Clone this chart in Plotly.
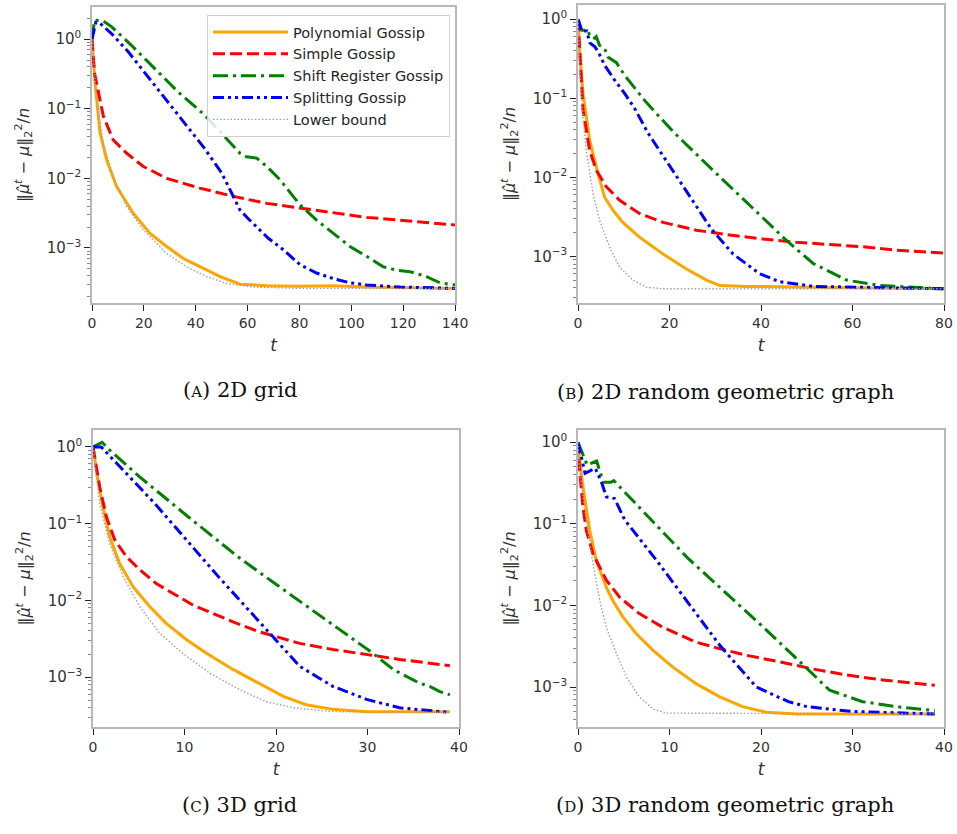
import plotly.graph_objects as go

# ---------------- data ----------------
# (A) 2D grid
a_poly_t = [0, 1.2, 3.1, 5.7, 9.5, 15.9, 22.4, 28.8, 35.2, 41.6, 49.4, 57.1, 67.4, 80.2, 93.1, 105.9, 140]
a_poly_v = [1.0, 0.229, 0.0447, 0.0182, 0.00759, 0.00316, 0.00162, 0.00105, 7.08e-4, 5.37e-4, 3.89e-4, 3.02e-4, 2.88e-4, 2.82e-4, 2.88e-4, 2.75e-4, 2.63e-4]
a_simple_t = [0, 1, 2, 4.4, 8.2, 13.4, 19.8, 28.8, 41.6, 54.5, 67.4, 80.2, 93.1, 105.9, 118.8, 140]
a_simple_v = [1.0, 0.32, 0.21, 0.0776, 0.0355, 0.0229, 0.0148, 0.0100, 0.00724, 0.00550, 0.00437, 0.00372, 0.00316, 0.00275, 0.00251, 0.00214]
a_shift_t = [0, 1, 4.3, 7.5, 15.2, 24.2, 33.2, 43.4, 52.4, 57.1, 59.6, 63.5, 67.4, 72.5, 77.6, 80.2, 86.6, 93.1, 99.5, 105.9, 112.3, 117.5, 122.6, 129, 134.2, 140]
a_shift_v = [1.0, 1.86, 1.82, 1.51, 0.813, 0.380, 0.174, 0.0813, 0.0355, 0.0229, 0.0204, 0.0195, 0.0148, 0.00955, 0.00550, 0.00417, 0.00251, 0.00162, 0.00105, 7.59e-4, 5.37e-4, 4.79e-4, 4.57e-4, 3.89e-4, 3.16e-4, 2.95e-4]
a_split_t = [0, 1.5, 3.0, 7.5, 13.9, 24.2, 34.4, 43.4, 50, 54, 57, 60, 64, 68, 74, 80.2, 86.6, 93.1, 99.5, 105.9, 118.8, 140]
a_split_v = [1.0, 1.74, 1.70, 1.20, 0.661, 0.219, 0.0724, 0.0269, 0.0120, 0.0060, 0.00355, 0.00269, 0.00191, 0.00138, 9.3e-4, 5.75e-4, 4.37e-4, 3.63e-4, 3.16e-4, 2.95e-4, 2.75e-4, 2.63e-4]
a_lower_t = [0, 1, 1.8, 4.4, 8.2, 13.4, 19.8, 28.8, 36.5, 44.2, 51.9, 62.2, 80.2, 140]
a_lower_v = [1.0, 0.30, 0.132, 0.0316, 0.0105, 0.00389, 0.00182, 8.32e-4, 5.37e-4, 3.89e-4, 3.09e-4, 2.75e-4, 2.63e-4, 2.63e-4]

# (B) 2D random geometric graph
b_poly_t = [0, 0.36, 1.1, 2.55, 4.0, 5.8, 7.7, 9.8, 13.5, 18.6, 23.7, 28.1, 31.0, 36.8, 51.4, 80]
b_poly_v = [1.0, 0.407, 0.115, 0.0295, 0.0135, 0.00562, 0.00380, 0.00269, 0.00174, 0.00107, 6.92e-4, 5.01e-4, 4.27e-4, 4.17e-4, 4.07e-4, 3.89e-4]
b_simple_t = [0, 0.36, 1.1, 2.55, 4.0, 6.2, 9.1, 13.5, 18.6, 25.9, 33.2, 40.4, 47.7, 55, 62.3, 69.6, 80]
b_simple_v = [1.0, 0.407, 0.0708, 0.0219, 0.0123, 0.00759, 0.00513, 0.00347, 0.00269, 0.00214, 0.00186, 0.00166, 0.00151, 0.00141, 0.00132, 0.00120, 0.00110]
b_shift_t = [0, 0.8, 2.2, 2.6, 3.7, 4.0, 4.7, 5.8, 6.6, 7.7, 8.4, 10.2, 12.0, 14.6, 18.2, 21.1, 30, 35, 40, 45.2, 51.4, 58.7, 66, 80]
b_shift_v = [1.0, 0.724, 0.724, 0.603, 0.575, 0.603, 0.468, 0.427, 0.331, 0.302, 0.282, 0.195, 0.145, 0.0933, 0.0550, 0.0363, 0.0115, 0.00617, 0.00324, 0.00166, 8.13e-4, 5.01e-4, 4.27e-4, 3.89e-4]
b_split_t = [0, 0.8, 1.9, 2.6, 3.7, 4.4, 5.8, 8.0, 10.2, 12.4, 15.3, 22, 29.1, 33.9, 39.7, 44, 51.4, 80]
b_split_v = [1.0, 0.708, 0.708, 0.501, 0.447, 0.389, 0.263, 0.170, 0.115, 0.0741, 0.0363, 0.0093, 0.00224, 0.00107, 6.03e-4, 4.79e-4, 4.17e-4, 3.89e-4]
b_lower_t = [0, 0.36, 1.1, 1.8, 3.3, 4.7, 6.9, 9.1, 12.0, 14.9, 18.6, 80]
b_lower_v = [1.0, 0.251, 0.0575, 0.0219, 0.00617, 0.00288, 0.00132, 7.24e-4, 5.01e-4, 4.07e-4, 3.89e-4, 3.89e-4]

# (C) 3D grid
c_poly_t = [0, 0.36, 1.09, 1.82, 2.91, 4.37, 6.19, 8.0, 10.2, 12.4, 15.3, 18.2, 20.8, 23.3, 26.2, 29.9, 39]
c_poly_v = [1.0, 0.501, 0.166, 0.0676, 0.0302, 0.0151, 0.00832, 0.00501, 0.00309, 0.00204, 0.00126, 8.32e-4, 5.62e-4, 4.37e-4, 3.80e-4, 3.55e-4, 3.55e-4]
c_simple_t = [0, 0.73, 1.46, 2.37, 3.64, 5.1, 6.9, 8.7, 10.9, 13.1, 15.3, 18.2, 20, 22.6, 26.2, 29.9, 33.5, 39]
c_simple_v = [1.0, 0.302, 0.123, 0.0617, 0.0372, 0.0251, 0.0166, 0.0123, 0.00871, 0.00676, 0.00525, 0.00389, 0.00339, 0.00275, 0.00229, 0.00195, 0.00170, 0.00141]
c_shift_t = [0, 1, 1.8, 5.1, 10.4, 15.8, 20, 25, 30.6, 32.8, 34.2, 35.7, 36.8, 37.9, 39]
c_shift_v = [1.0, 1.15, 0.912, 0.407, 0.123, 0.0372, 0.0162, 0.00617, 0.00204, 0.00126, 0.00102, 8.32e-4, 7.59e-4, 6.46e-4, 5.89e-4]
c_split_t = [0, 0.9, 1.6, 6.7, 13.7, 19.7, 22.6, 26.2, 29.9, 33.5, 39]
c_split_v = [1.0, 1.0, 0.813, 0.186, 0.0204, 0.00339, 0.00138, 7.59e-4, 5.13e-4, 3.98e-4, 3.47e-4]
c_lower_t = [0, 0.73, 1.82, 3.28, 5.1, 7.3, 9.8, 12.8, 16, 18.9, 21.9, 26.2, 39]
c_lower_v = [1.0, 0.182, 0.0550, 0.0204, 0.00832, 0.00372, 0.00204, 0.00112, 6.92e-4, 4.79e-4, 3.98e-4, 3.55e-4, 3.47e-4]

# (D) 3D random geometric graph
d_poly_t = [0, 0.18, 0.55, 1.28, 2.0, 3.1, 3.8, 4.9, 6.4, 8.2, 10.4, 12.9, 15.5, 18, 20.6, 23.9, 39]
d_poly_v = [1.0, 0.603, 0.282, 0.0832, 0.0355, 0.0166, 0.0115, 0.00724, 0.00447, 0.00282, 0.00174, 0.00110, 7.59e-4, 5.75e-4, 4.90e-4, 4.68e-4, 4.68e-4]
d_simple_t = [0, 0.18, 0.55, 0.91, 1.64, 2.37, 3.1, 4.55, 6.7, 9.3, 12.9, 15.5, 18.4, 22, 25.7, 29.3, 33, 39]
d_simple_v = [1.0, 0.447, 0.158, 0.0832, 0.0427, 0.0295, 0.0204, 0.0126, 0.00794, 0.00537, 0.00355, 0.00295, 0.00245, 0.00204, 0.00166, 0.00141, 0.00123, 0.00105]
d_shift_t = [0, 1, 2.04, 2.77, 3.6, 3.9, 12, 15, 20, 24.8, 27.5, 31.1, 34.8, 39]
d_shift_v = [1.0, 0.525, 0.589, 0.324, 0.324, 0.339, 0.0380, 0.0186, 0.00575, 0.00178, 9.12e-4, 6.61e-4, 5.75e-4, 5.13e-4]
d_split_t = [0, 0.77, 1.9, 2.6, 3.1, 4.0, 5.1, 8.6, 15.5, 19.5, 23, 25, 30, 39]
d_split_v = [1.0, 0.417, 0.479, 0.316, 0.214, 0.204, 0.112, 0.0355, 0.00324, 0.00100, 6.61e-4, 5.75e-4, 5.01e-4, 4.68e-4]
d_lower_t = [0, 0.18, 0.91, 1.64, 2.37, 3.1, 4.2, 5.3, 6.7, 8.2, 9.7, 39]
d_lower_v = [1.0, 0.447, 0.110, 0.0324, 0.0115, 0.00537, 0.00257, 0.00132, 7.59e-4, 5.37e-4, 4.79e-4, 4.68e-4]

series_names = ["Polynomial Gossip", "Simple Gossip", "Shift Register Gossip", "Splitting Gossip", "Lower bound"]
y_tick_vals = [1, 0.1, 0.01, 0.001]
y_tick_text = ["10<sup>0</sup>", "10<sup>\u22121</sup>", "10<sup>\u22122</sup>", "10<sup>\u22123</sup>"]
captions = ["(<span style='font-size:15px'>A</span>) 2D grid",
            "(<span style='font-size:15px'>B</span>) 2D random geometric graph",
            "(<span style='font-size:15px'>C</span>) 3D grid",
            "(<span style='font-size:15px'>D</span>) 3D random geometric graph"]

panels = [
    dict(data=[(a_poly_t, a_poly_v), (a_simple_t, a_simple_v), (a_shift_t, a_shift_v), (a_split_t, a_split_v), (a_lower_t, a_lower_v)],
         xr=[0, 140], xt=[0, 20, 40, 60, 80, 100, 120, 140], yr=[-3.79, 0.46],
         xd=[92 / 957, 455 / 957], yd=[1 - 303 / 834, 1 - 7 / 834], cap=(240, 390)),
    dict(data=[(b_poly_t, b_poly_v), (b_simple_t, b_simple_v), (b_shift_t, b_shift_v), (b_split_t, b_split_v), (b_lower_t, b_lower_v)],
         xr=[0, 80], xt=[0, 20, 40, 60, 80], yr=[-3.59, 0.18],
         xd=[578 / 957, 944 / 957], yd=[1 - 303 / 834, 1 - 5 / 834], cap=(725, 392)),
    dict(data=[(c_poly_t, c_poly_v), (c_simple_t, c_simple_v), (c_shift_t, c_shift_v), (c_split_t, c_split_v), (c_lower_t, c_lower_v)],
         xr=[0, 40], xt=[0, 10, 20, 30, 40], yr=[-3.65, 0.22],
         xd=[93 / 957, 459 / 957], yd=[1 - 727 / 834, 1 - 430 / 834], cap=(240, 805)),
    dict(data=[(d_poly_t, d_poly_v), (d_simple_t, d_simple_v), (d_shift_t, d_shift_v), (d_split_t, d_split_v), (d_lower_t, d_lower_v)],
         xr=[0, 40], xt=[0, 10, 20, 30, 40], yr=[-3.49, 0.15],
         xd=[578 / 957, 944 / 957], yd=[1 - 727 / 834, 1 - 430 / 834], cap=(725, 805)),
]

styles = [
    dict(color="#FFA500", width=3, dash="solid"),
    dict(color="#FF0000", width=3, dash="12px,5px"),
    dict(color="#008000", width=3, dash="15px,5px,3px,5px"),
    dict(color="#0000FF", width=3, dash="11px,4px,3px,4px,3px,4px"),
    dict(color="#A0A0A0", width=1.4, dash="1.5px,2px"),
]

fig = go.Figure()
FONT = "DejaVu Sans"
layout = dict(width=957, height=834, margin=dict(l=0, r=0, t=0, b=0, autoexpand=False),
              paper_bgcolor="white", plot_bgcolor="white", font=dict(family=FONT, color="#262626"),
              showlegend=True,
              legend=dict(x=207 / 957, y=1 - 15 / 834, xanchor="left", yanchor="top",
                          bgcolor="rgba(255,255,255,0.85)", bordercolor="#d0d0d0", borderwidth=1,
                          font=dict(family=FONT, size=14.5, color="#262626"), tracegroupgap=0,
                          itemwidth=75))
annotations = []
for i, p in enumerate(panels):
    sfx = "" if i == 0 else str(i + 1)
    for j, (tt, vv) in enumerate(p["data"]):
        fig.add_trace(go.Scatter(x=tt, y=vv, mode="lines", name=series_names[j],
                                 line=styles[j], showlegend=(i == 0), legendgroup=series_names[j],
                                 xaxis="x" + sfx, yaxis="y" + sfx))
    layout["xaxis" + sfx] = dict(domain=p["xd"], anchor="y" + sfx, range=p["xr"], tickvals=p["xt"],
                                 automargin=False,
                                 ticks="outside", ticklen=6, tickwidth=1.3, tickcolor="#222",
                                 showline=True, linecolor="#b8b8b8", linewidth=1.5, mirror=True,
                                 showgrid=False, zeroline=False,
                                 tickfont=dict(family=FONT, size=14, color="#333"),
                                 title=dict(text="<i>t</i>", font=dict(family=FONT, size=17, color="#333"), standoff=10))
    layout["yaxis" + sfx] = dict(domain=p["yd"], anchor="x" + sfx, type="log", range=p["yr"],
                                 automargin=False,
                                 tickvals=y_tick_vals, ticktext=y_tick_text,
                                 ticks="outside", ticklen=6, tickwidth=1.3, tickcolor="#222",
                                 minor=dict(ticks="outside", ticklen=3, tickwidth=0.8, tickcolor="#888",
                                            dtick="D1", showgrid=False),
                                 showline=True, linecolor="#b8b8b8", linewidth=1.5, mirror=True,
                                 showgrid=False, zeroline=False,
                                 tickfont=dict(family=FONT, size=15, color="#333"),
                                 title=dict(text="\u2016<i>\u03bc\u0302</i><sup><i>t</i></sup> \u2212 <i>\u03bc</i>\u2016<sub>2</sub><sup>2</sup>/<i>n</i>",
                                            font=dict(family=FONT, size=16, color="#333"), standoff=13))
    cx, cy = p["cap"]
    annotations.append(dict(x=cx / 957, y=1 - cy / 834, xref="paper", yref="paper", showarrow=False,
                            text=captions[i], xanchor="center", yanchor="middle",
                            font=dict(family="DejaVu Serif", size=21, color="#111")))
layout["annotations"] = annotations
fig.update_layout(**layout)
fig.write_html("out.html", config={"displayModeBar": False})

# remove the browser's default page margin so the figure sits at the window's corner
with open("out.html", "r", encoding="utf-8") as fh:
    html = fh.read()
html = html.replace("<head>", "<head><style>html,body{margin:0;padding:0;}</style>", 1)
with open("out.html", "w", encoding="utf-8") as fh:
    fh.write(html)
